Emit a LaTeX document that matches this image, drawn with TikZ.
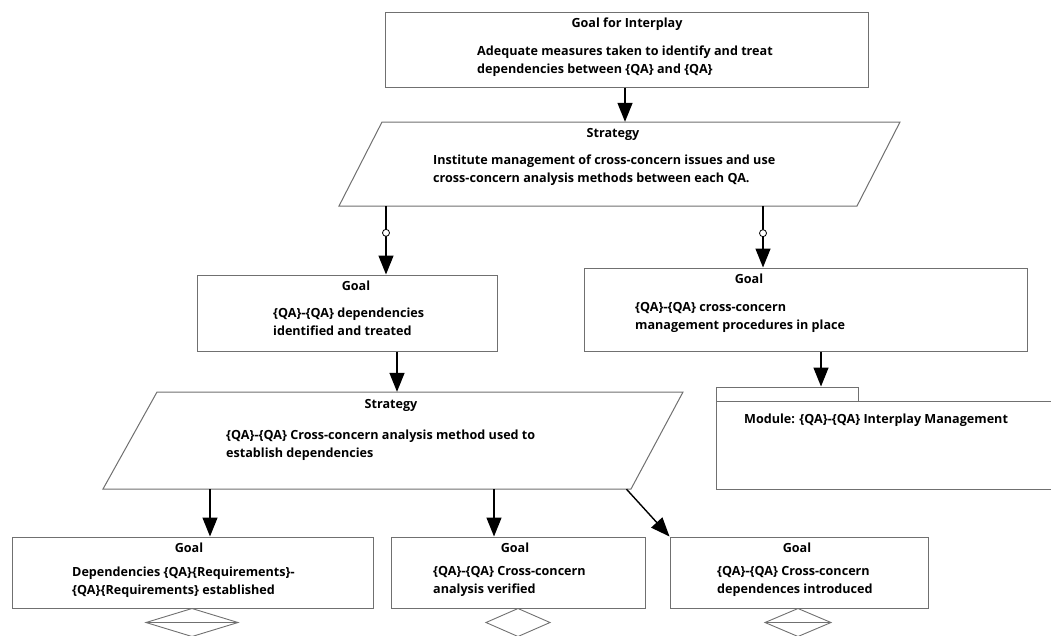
\documentclass[tikz,border=0pt]{standalone}
\usepackage{fontspec}
\setmainfont{Open Sans}
\usetikzlibrary{arrows.meta}
\begin{document}
\begin{tikzpicture}[x=1pt,y=-1pt,
  box/.style={draw=boxgray, line width=1pt, inner sep=0pt, fill=white},
  ttl/.style={font=\fontsize{12.6}{18}\selectfont\bfseries, inner sep=0pt, anchor=base},
  txt/.style={font=\fontsize{12.6}{18}\selectfont\bfseries, inner sep=0pt, anchor=north west, align=left},
  arr/.style={line width=1.4pt, -{Triangle[width=15pt,length=19pt]}},
  circ/.style={circle, draw, fill=white, line width=0.8pt, inner sep=0pt, minimum size=7pt},
  ghost/.style={inner sep=0pt, draw=none}
]
\definecolor{boxgray}{HTML}{707070}
\useasboundingbox (0,0) rectangle (1051,635);

% ---------- top goal
\node[box, minimum width=483pt, minimum height=75pt] (g0) at (626.5,49.5) {};
\node[ttl] (g0t) at (627,27.5) {Goal for Interplay};
\node[txt] (g0x) at (477,45.5) {Adequate measures taken to identify and treat\\dependencies between \{QA\} and \{QA\}};

% ---------- strategy 1 (parallelogram)
\node[ghost, minimum width=518pt, minimum height=84pt] (s1) at (619.5,164) {};
\draw[draw=boxgray, line width=1pt, fill=white]
  (382,122) -- (900,122) -- (857,206) -- (339,206) -- cycle;
\node[ttl] (s1t) at (613,137) {Strategy};
\node[txt] (s1x) at (433,154.5) {Institute management of cross-concern issues and use\\cross-concern analysis methods between each QA.};

% ---------- middle goals
\node[box, minimum width=300pt, minimum height=76pt] (g1) at (347,313) {};
\node[ttl] (g1t) at (356,290) {Goal};
\node[txt] (g1x) at (273,307.5) {\{QA\}-\{QA\} dependencies\\identified and treated};

\node[box, minimum width=443pt, minimum height=83pt] (g2) at (805.5,309.5) {};
\node[ttl] (g2t) at (749,283) {Goal};
\node[txt] (g2x) at (635,302.5) {\{QA\}-\{QA\} cross-concern\\management procedures in place};

% ---------- module
\node[box, minimum width=142pt, minimum height=14pt] (mtab) at (787,394) {};
\node[box, minimum width=344pt, minimum height=88pt] (mod) at (888,445) {};
\node[ttl, anchor=base west] (modt) at (744,423) {Module: \{QA\}-\{QA\} Interplay Management};

% ---------- strategy 2 (parallelogram)
\node[ghost, minimum width=527pt, minimum height=97pt] (s2) at (393.5,440.5) {};
\draw[draw=boxgray, line width=1pt, fill=white]
  (157,392) -- (683,392) -- (631,489) -- (103,489) -- cycle;
\node[ttl] (s2t) at (391,408) {Strategy};
\node[txt] (s2x) at (226,429.5) {\{QA\}-\{QA\} Cross-concern analysis method used to\\establish dependencies};

% ---------- bottom goals
\node[box, minimum width=361pt, minimum height=71pt] (b1) at (192.5,572.5) {};
\node[ttl] (b1t) at (189,552) {Goal};
\node[txt] (b1x) at (72,566.5) {Dependencies \{QA\}\{Requirements\}-\\\{QA\}\{Requirements\} established};

\node[box, minimum width=254pt, minimum height=71pt] (b2) at (518,572.5) {};
\node[ttl] (b2t) at (515,552) {Goal};
\node[txt] (b2x) at (433,566.5) {\{QA\}-\{QA\} Cross-concern\\analysis verified};

\node[box, minimum width=258pt, minimum height=71pt] (b3) at (799,572.5) {};
\node[ttl] (b3t) at (797,552) {Goal};
\node[txt] (b3x) at (717,566.5) {\{QA\}-\{QA\} Cross-concern\\dependences introduced};

% ---------- diamonds (undeveloped markers)
\coordinate (d1) at (192,622);
\draw[draw=boxgray, line width=0.9pt] (b1.south -| d1) -- ++(46,14) -- ++(-46,14) -- ++(-46,-14) -- cycle;
\draw[draw=boxgray, line width=0.9pt] ([xshift=-46pt]d1) -- ([xshift=46pt]d1);
\coordinate (d2) at (518,622);
\draw[draw=boxgray, line width=0.9pt] (b2.south -| d2) -- ++(32,14) -- ++(-32,14) -- ++(-32,-14) -- cycle;
\coordinate (d3) at (798,622);
\draw[draw=boxgray, line width=0.9pt] (b3.south -| d3) -- ++(33,14) -- ++(-33,14) -- ++(-33,-14) -- cycle;
\draw[draw=boxgray, line width=0.9pt] ([xshift=-33pt]d3) -- ([xshift=33pt]d3);

% ---------- connectors
\draw[arr] ([xshift=-1.5pt]g0.south) -- ([xshift=-1.5pt]g0.south |- s1.north);
\draw[arr] ([xshift=39pt]g1.north |- s1.south) -- node[pos=0.39, circ] {} ([xshift=39pt]g1.north);
\draw[arr] ([xshift=-42.5pt]g2.north |- s1.south) -- node[pos=0.44, circ] {} ([xshift=-42.5pt]g2.north);
\draw[arr] ([xshift=50pt]g1.south) -- ([xshift=50pt]g1.south |- s2.north);
\draw[arr] ([xshift=15.5pt]g2.south) -- ([xshift=15.5pt]g2.south |- mtab.north);
\draw[arr] ([xshift=17.5pt]b1.north |- s2.south) -- ([xshift=17.5pt]b1.north);
\draw[arr] ([xshift=-24pt]b2.north |- s2.south) -- ([xshift=-24pt]b2.north);
\draw[arr] ([xshift=233pt]s2.south) -- (b3.north west);
\end{tikzpicture}
\end{document}
